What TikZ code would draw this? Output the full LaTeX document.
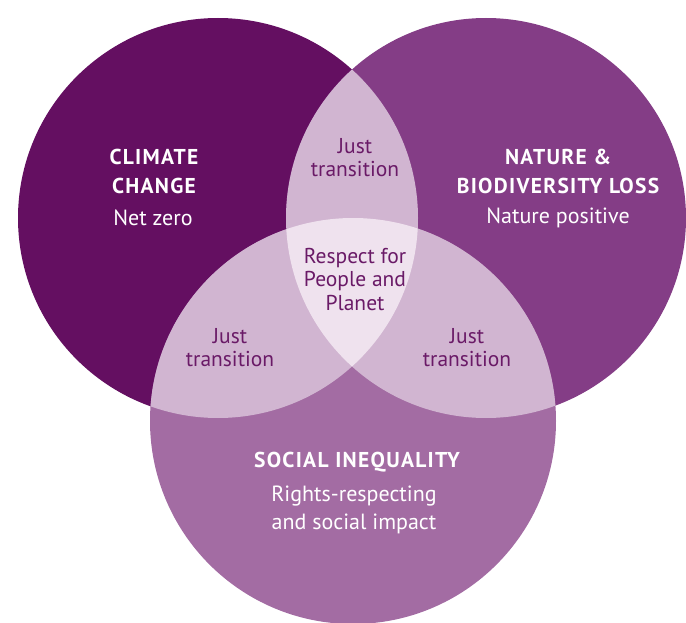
\documentclass[tikz,border=0pt]{standalone}
\usepackage{fontspec}
\setmainfont{PT Sans}
\definecolor{cclimate}{HTML}{640F61}
\definecolor{cnature}{HTML}{843D86}
\definecolor{csocial}{HTML}{A36CA3}
\definecolor{clens}{HTML}{D1B5D1}
\definecolor{ccenter}{HTML}{EFE2EE}
\definecolor{ctext}{HTML}{6A1A67}
\tikzset{
  heading/.style={text=white, align=center, font=\fontsize{21.5}{29}\selectfont\bfseries\addfontfeatures{LetterSpace=6}},
  subtext/.style={text=white, align=center, font=\fontsize{22}{28}\selectfont},
  lenstext/.style={text=ctext, align=center, font=\fontsize{21.5}{23.5}\selectfont},
}
\begin{document}
\begin{tikzpicture}[x=1pt,y=-1pt]
\useasboundingbox (0,0) rectangle (686,623);
\coordinate (cl) at (218,218);
\coordinate (cr) at (486,218);
\coordinate (cb) at (353,421);
\def\rl{200pt}
\def\rb{203pt}
\fill[cclimate] (cl) circle (\rl);
\fill[cnature] (cr) circle (\rl);
\fill[csocial] (cb) circle (\rb);
\begin{scope}
  \clip (cl) circle (\rl);
  \fill[clens] (cr) circle (\rl);
  \fill[clens] (cb) circle (\rb);
\end{scope}
\begin{scope}
  \clip (cr) circle (\rl);
  \fill[clens] (cb) circle (\rb);
\end{scope}
\begin{scope}
  \clip (cl) circle (\rl);
  \clip (cr) circle (\rl);
  \fill[ccenter] (cb) circle (\rb);
\end{scope}
\node[heading] (climate) at (154,171.5) {CLIMATE\\CHANGE};
\node[subtext] (netzero) at (153,218) {Net zero};
\node[heading] (nature) at (558,171.5) {NATURE \&\\BIODIVERSITY LOSS};
\node[subtext] (naturepos) at (558,218) {Nature positive};
\node[heading] (social) at (357,462) {SOCIAL INEQUALITY};
\node[subtext] (rights) at (354,510) {Rights-respecting\\and social impact};
\node[lenstext] (jtop) at (355,157.5) {Just\\transition};
\node[lenstext] (jleft) at (230,347.5) {Just\\transition};
\node[lenstext] (jright) at (467,347.5) {Just\\transition};
\node[lenstext] (respect) at (355,279.5) {Respect for\\People and\\Planet};
\end{tikzpicture}
\end{document}
